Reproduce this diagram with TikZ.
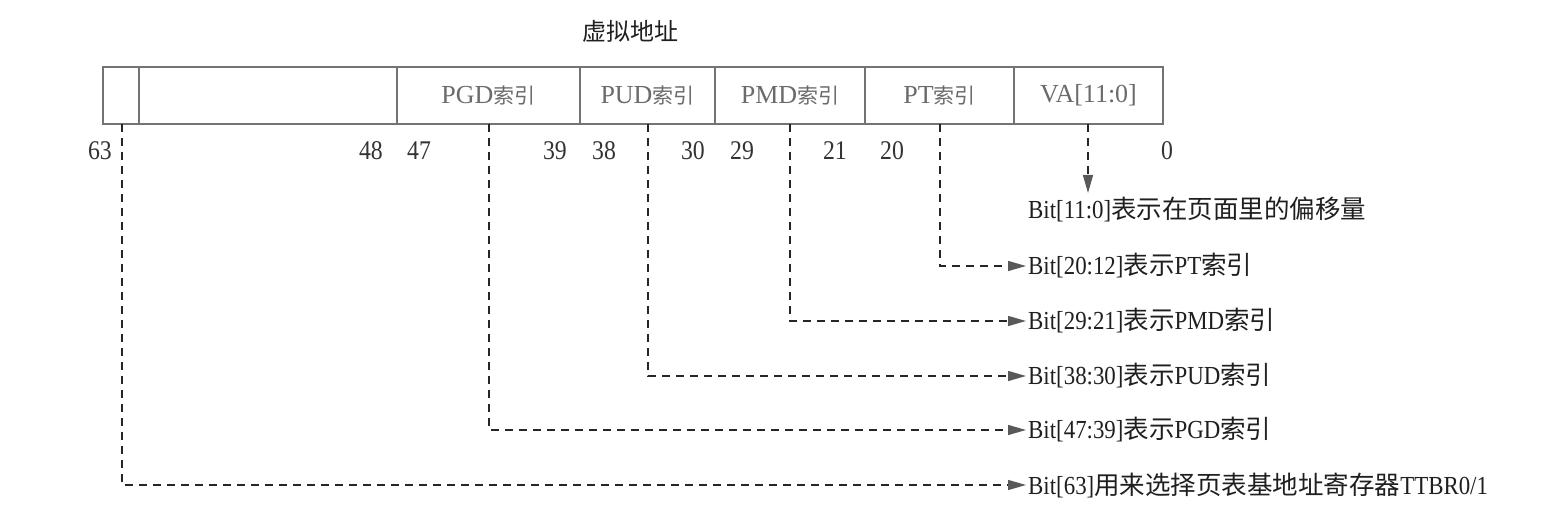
\documentclass[tikz,border=0pt]{standalone}
\usepackage{fontspec}
\setmainfont{Liberation Serif}[FakeStretch=0.88]
\newfontfamily\boxrm{Liberation Serif}
\newfontfamily\cjk{Noto Sans CJK SC}
\usetikzlibrary{arrows.meta}
\def\zhsz{24pt}
\newcommand\zh[1]{{\cjk\fontsize{\zhsz}{\zhsz}\selectfont #1}}
\definecolor{boxgray}{gray}{0.45}
\definecolor{lblgray}{gray}{0.42}
\definecolor{numgray}{gray}{0.2}
\definecolor{descgray}{gray}{0.12}
\definecolor{linegray}{gray}{0.15}
\definecolor{arrgray}{gray}{0.35}
\tikzset{
  cell/.style={draw=boxgray, line width=1.3pt, minimum height=57pt, inner sep=0pt, outer sep=0pt,
    text=lblgray, font=\boxrm\fontsize{26}{28}\selectfont\def\zhsz{21pt}},
  num/.style={text=numgray, font=\fontsize{27}{28}\selectfont, inner sep=0pt},
  desc/.style={text=descgray, font=\fontsize{26}{28}\selectfont\def\zhsz{25.5pt}, anchor=west, inner sep=2pt},
  conn/.style={draw=linegray, line width=1.4pt, dash pattern=on 8pt off 6pt},
  arr/.style={-{Triangle[length=18pt,width=10pt,color=arrgray]}},
  ttl/.style={text=descgray, font=\def\zhsz{24pt}}
}
\begin{document}
\begin{tikzpicture}[x=1pt,y=-1pt]
\useasboundingbox[fill=white] (0,0) rectangle (1564,510);
\node[ttl] (title) at (630,31) {\zh{虚拟地址}};
% cells
\node[cell, minimum width=36pt] (c63) at (121,95.5) {};
\node[cell, minimum width=258pt] (cres) at (268,95.5) {};
\node[cell, minimum width=183pt] (cpgd) at (488.5,95.5) {PGD\zh{索引}};
\node[cell, minimum width=135pt] (cpud) at (647.5,95.5) {PUD\zh{索引}};
\node[cell, minimum width=150pt] (cpmd) at (790,95.5) {PMD\zh{索引}};
\node[cell, minimum width=149pt] (cpt) at (939.5,95.5) {PT\zh{索引}};
\node[cell, minimum width=149pt] (cva) at (1088.5,95.5) {VA[11:0]};
% bit numbers
\node[num, anchor=east] (n63) at (112,151) {63};
\node[num, anchor=east] (n48) at (383,151) {48};
\node[num, anchor=west] (n47) at (407,151) {47};
\node[num, anchor=east] (n39) at (567,151) {39};
\node[num, anchor=west] (n38) at (592,151) {38};
\node[num, anchor=east] (n30) at (705,151) {30};
\node[num, anchor=west] (n29) at (730,151) {29};
\node[num, anchor=east] (n21) at (847,151) {21};
\node[num, anchor=west] (n20) at (880,151) {20};
\node[num, anchor=west] (n0) at (1161,151) {0};
% descriptions
\node[desc] (d0) at (1026,209) {Bit[11:0]\zh{表示在页面里的偏移量}};
\node[desc] (dpt) at (1026,266) {Bit[20:12]\zh{表示}PT\zh{索引}};
\node[desc] (dpmd) at (1026,321) {Bit[29:21]\zh{表示}PMD\zh{索引}};
\node[desc] (dpud) at (1026,376) {Bit[38:30]\zh{表示}PUD\zh{索引}};
\node[desc] (dpgd) at (1026,430) {Bit[47:39]\zh{表示}PGD\zh{索引}};
\node[desc] (d63) at (1026,485) {Bit[63]\zh{用来选择页表基地址寄存器}TTBR0/1};
% connector starts
\coordinate (s63) at (122,124);
\coordinate (spgd) at (489,124);
\coordinate (spud) at (648,124);
\coordinate (spmd) at (790,124);
\coordinate (spt) at (940,124);
\coordinate (s0) at (1088,124);
\coordinate (t0) at (1088,193);
% connectors
\draw[conn, arr] (s0) -- (t0);
\draw[conn, arr] (spt) |- (dpt);
\draw[conn, arr] (spmd) |- (dpmd);
\draw[conn, arr] (spud) |- (dpud);
\draw[conn, arr] (spgd) |- (dpgd);
\draw[conn, arr] (s63) |- (d63);
\end{tikzpicture}
\end{document}
